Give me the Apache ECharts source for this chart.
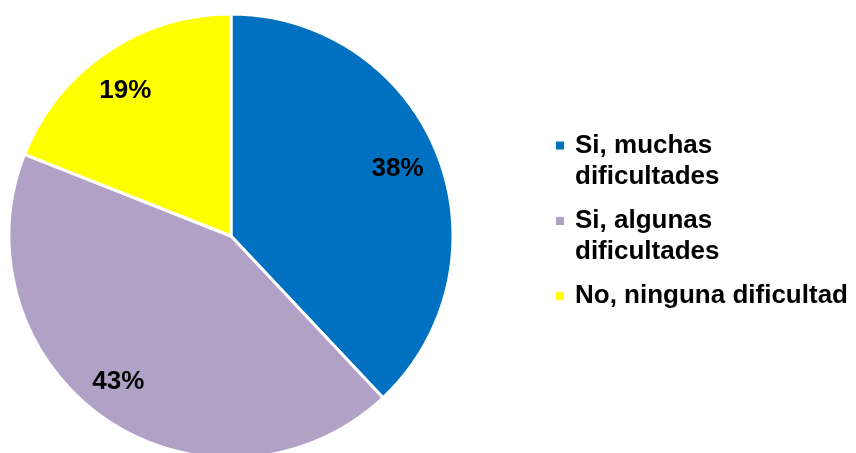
<!DOCTYPE html>
<html>
<head>
<meta charset="utf-8">
<script src="https://cdn.jsdelivr.net/npm/echarts@6/dist/echarts.min.js"></script>
<style>
  html, body { margin: 0; padding: 0; background: #ffffff; }
  #chart { width: 856px; height: 453px; }
</style>
</head>
<body>
<div id="chart"></div>
<script>
// Survey answers and their shares (percent)
const categories = ['Si, muchas\ndificultades', 'Si, algunas\ndificultades', 'No, ninguna dificultad'];
const shares = [38, 43, 19];
const sliceColors = ['#0070C0', '#B2A1C7', '#FFFF00'];

const FONT = '"Liberation Sans", Arial, sans-serif';
const CENTER = [231, 236];
const RADIUS = 222;
// small nudges applied to the percentage labels (pixels)
const labelNudges = [[-5, 1], [-9, -7], [-2, 7]];

const pieData = categories.map((name, i) => ({
  name: name,
  value: shares[i],
  itemStyle: { color: sliceColors[i] }
}));

// One legend per entry; a blank leading line keeps the marker beside the first text line
const legendTops = [99, 174.5, 280.5];
const legends = categories.map((name, i) => {
  const multiLine = name.indexOf('\n') >= 0;
  return {
    orient: 'vertical',
    left: 556,
    top: legendTops[i],
    padding: 0,
    itemWidth: 8,
    itemHeight: 8,
    icon: 'rect',
    selectedMode: false,
    data: [name],
    formatter: (n) => (multiLine ? '\n' + n : n),
    itemStyle: { borderWidth: 0 },
    textStyle: {
      fontFamily: FONT,
      fontSize: 26,
      fontWeight: 'bold',
      color: '#000000',
      lineHeight: 31,
      backgroundColor: 'rgba(255,255,255,0)',
      padding: [0, 0, 0, 6]
    }
  };
});

const chart = echarts.init(document.getElementById('chart'), null, { renderer: 'canvas' });
chart.setOption({
  backgroundColor: '#ffffff',
  animation: false,
  legend: legends,
  series: [
    {
      type: 'pie',
      center: CENTER,
      radius: [0, RADIUS],
      startAngle: 90,
      clockwise: true,
      data: pieData,
      label: { show: false },
      labelLine: { show: false },
      itemStyle: { borderColor: '#ffffff', borderWidth: 3 },
      emphasis: { disabled: true }
    },
    {
      // transparent ring that only carries the percentage labels
      type: 'pie',
      center: CENTER,
      radius: [141, RADIUS],
      startAngle: 90,
      clockwise: true,
      silent: true,
      legendHoverLink: false,
      data: categories.map((name, i) => ({ name: name, value: shares[i] })),
      itemStyle: { color: 'rgba(0,0,0,0)', borderWidth: 0 },
      label: {
        show: true,
        position: 'inside',
        formatter: '{c}%',
        fontFamily: FONT,
        fontSize: 26,
        fontWeight: 'bold',
        color: '#000000'
      },
      labelLayout: (p) => ({ dx: labelNudges[p.dataIndex][0], dy: labelNudges[p.dataIndex][1] }),
      labelLine: { show: false },
      emphasis: { disabled: true }
    }
  ]
});
</script>
</body>
</html>
